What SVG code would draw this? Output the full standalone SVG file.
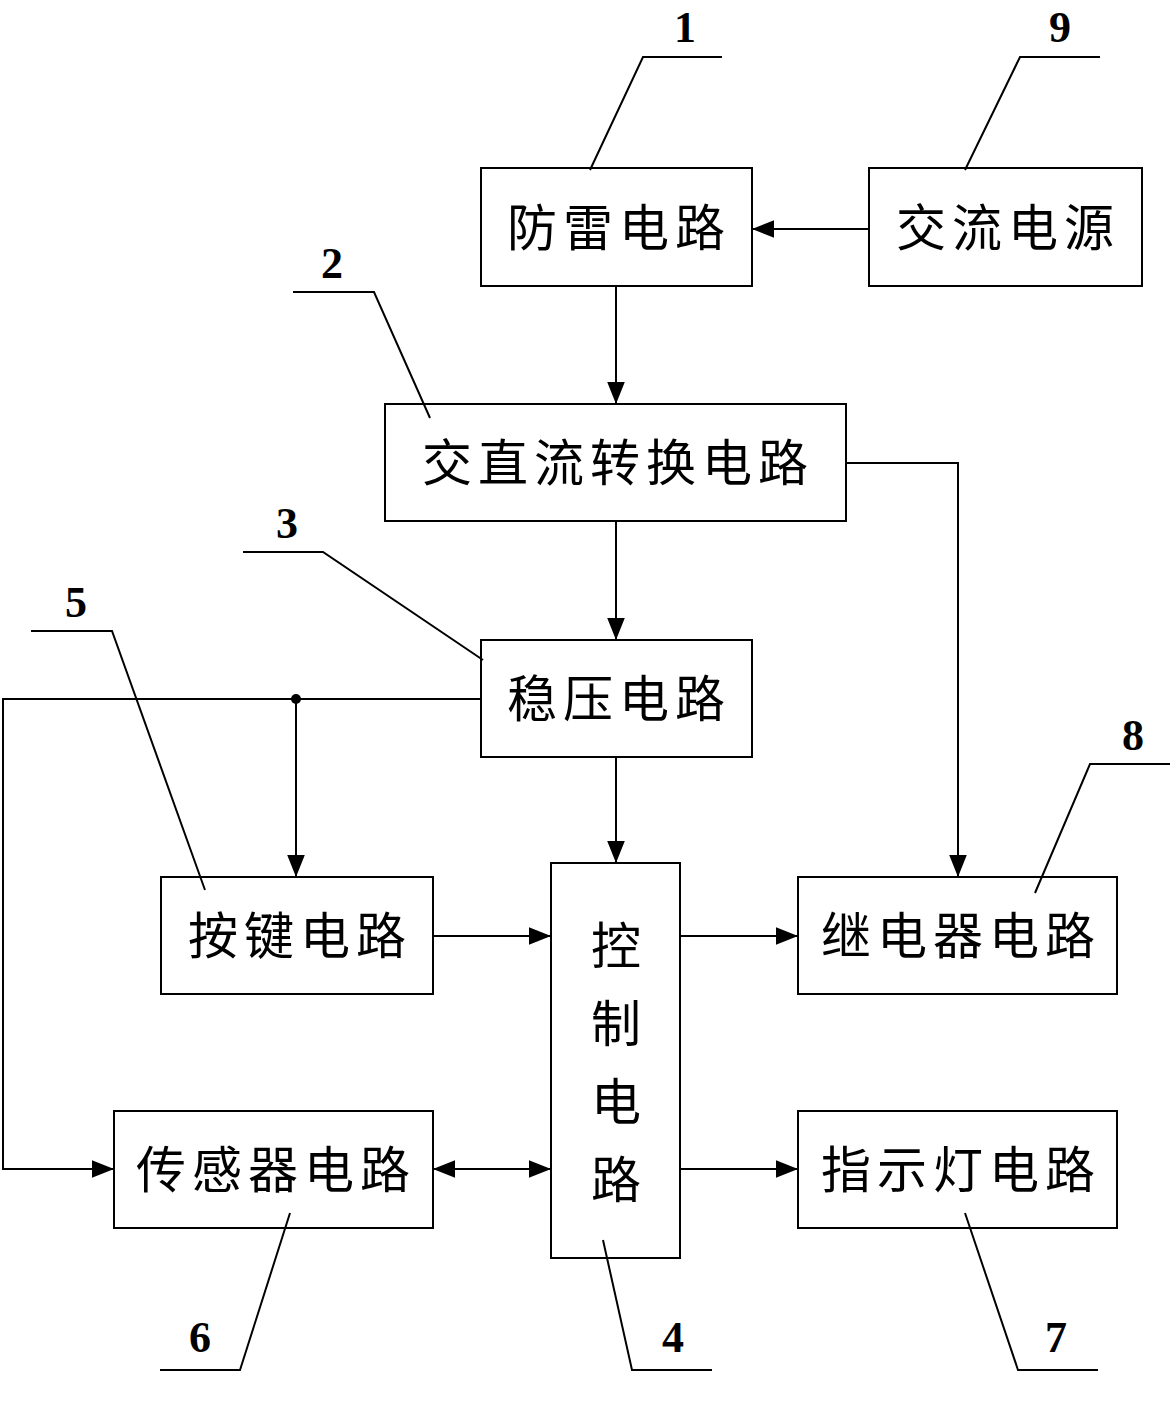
<svg xmlns="http://www.w3.org/2000/svg" width="1172" height="1404" viewBox="0 0 1172 1404">
<style>
.b{fill:#fff;stroke:#000;stroke-width:2}
.t{font-family:"Noto Sans CJK SC","Noto Sans CJK JP",sans-serif;font-size:50px;letter-spacing:6px;text-anchor:middle;fill:#000}
.n{font-family:"Liberation Serif",serif;font-weight:bold;font-size:44px;text-anchor:middle;fill:#000}
.l{stroke:#000;stroke-width:2;fill:none}
</style>
<defs><marker id="a" viewBox="0 0 10 10" refX="10" refY="5" markerWidth="22" markerHeight="22" markerUnits="userSpaceOnUse" orient="auto-start-reverse"><path d="M0,1 L10,5 L0,9 Z" fill="#000"/></marker></defs>
<rect width="1172" height="1404" fill="#fff"/>
<g id="connectors" class="l">
<line x1="869" y1="229" x2="752" y2="229" marker-end="url(#a)"/>
<line x1="616" y1="286" x2="616" y2="404" marker-end="url(#a)"/>
<line x1="616" y1="521" x2="616" y2="640" marker-end="url(#a)"/>
<line x1="616" y1="757" x2="616" y2="863" marker-end="url(#a)"/>
<polyline points="846,463 958,463 958,877" marker-end="url(#a)"/>
<polyline points="481,699 3,699 3,1169 114,1169" marker-end="url(#a)"/>
<line x1="296" y1="699" x2="296" y2="877" marker-end="url(#a)"/>
<line x1="433" y1="936" x2="551" y2="936" marker-end="url(#a)"/>
<line x1="680" y1="936" x2="798" y2="936" marker-end="url(#a)"/>
<line x1="433" y1="1169" x2="551" y2="1169" marker-start="url(#a)" marker-end="url(#a)"/>
<line x1="680" y1="1169" x2="798" y2="1169" marker-end="url(#a)"/>
<circle cx="296" cy="699" r="5" fill="#000" stroke="none"/>
</g>
<g id="n1"><rect class="b" x="481" y="168" width="271" height="118"/><text class="t" x="619" y="246">防雷电路</text></g>
<g id="n9"><rect class="b" x="869" y="168" width="273" height="118"/><text class="t" x="1008" y="246">交流电源</text></g>
<g id="n2"><rect class="b" x="385" y="404" width="461" height="117"/><text class="t" x="618" y="481">交直流转换电路</text></g>
<g id="n3"><rect class="b" x="481" y="640" width="271" height="117"/><text class="t" x="619" y="717">稳压电路</text></g>
<g id="n4"><rect class="b" x="551" y="863" width="129" height="395"/><text class="t" x="619" y="964">控</text><text class="t" x="619" y="1042">制</text><text class="t" x="619" y="1120">电</text><text class="t" x="619" y="1198">路</text></g>
<g id="n5"><rect class="b" x="161" y="877" width="272" height="117"/><text class="t" x="300" y="954">按键电路</text></g>
<g id="n8"><rect class="b" x="798" y="877" width="319" height="117"/><text class="t" x="961" y="954">继电器电路</text></g>
<g id="n6"><rect class="b" x="114" y="1111" width="319" height="117"/><text class="t" x="276" y="1188">传感器电路</text></g>
<g id="n7"><rect class="b" x="798" y="1111" width="319" height="117"/><text class="t" x="961" y="1188">指示灯电路</text></g>
<g id="labels" class="l">
<polyline points="722,57 643,57 590,170"/>
<polyline points="1100,57 1020,57 965,170"/>
<polyline points="293,292 374,292 430,418"/>
<polyline points="243,552 323,552 483,660"/>
<polyline points="31,631 112,631 205,890"/>
<polyline points="1170,764 1090,764 1035,893"/>
<polyline points="160,1370 240,1370 290,1213"/>
<polyline points="712,1370 632,1370 603,1240"/>
<polyline points="1098,1370 1018,1370 965,1213"/>
</g>
<g id="nums">
<text class="n" x="685" y="42">1</text>
<text class="n" x="1060" y="42">9</text>
<text class="n" x="332" y="278">2</text>
<text class="n" x="287" y="538">3</text>
<text class="n" x="76" y="617">5</text>
<text class="n" x="1133" y="750">8</text>
<text class="n" x="200" y="1352">6</text>
<text class="n" x="673" y="1352">4</text>
<text class="n" x="1056" y="1352">7</text>
</g>
</svg>
